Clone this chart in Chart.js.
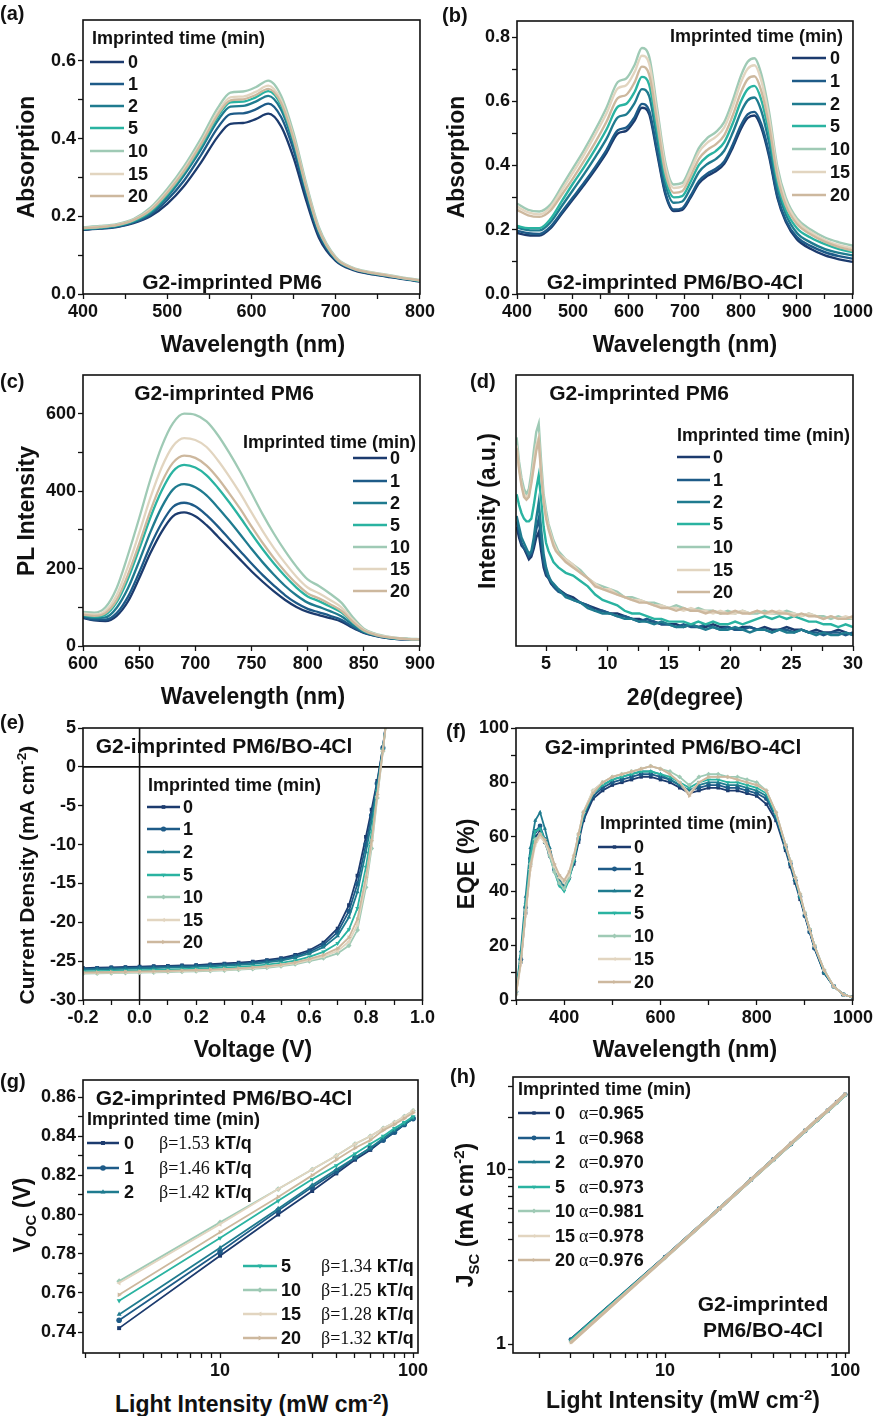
<!DOCTYPE html>
<html>
<head>
<meta charset="utf-8">
<script src="https://cdn.jsdelivr.net/npm/chart.js@4.4.0/dist/chart.umd.min.js"></script>
<style>
body{margin:0;background:#fff;width:875px;height:1416px;position:relative;overflow:hidden;font-family:"Liberation Sans",Arial,sans-serif;}
canvas{position:absolute;}
.t{position:absolute;white-space:nowrap;font-weight:bold;color:#111;line-height:1;}
.c{transform:translate(-50%,-50%);}
.l{transform:translateY(-50%);}
.r{transform:translate(-50%,-50%) rotate(-90deg);}
.serif{font-family:"Liberation Serif","Times New Roman",serif;font-weight:normal;}
sup,sub{font-size:65%;}
</style>
</head>
<body>
<script>
// imprinted times and colours (one per series)
const TIMES = ['0', '1', '2', '5', '10', '15', '20'];
const COLORS = ['#1c3b6e', '#1e5b88', '#1f7b8f', '#2ab3a1', '#9fcab5', '#e2d5c0', '#cdb89e'];
const SHAPES = ['rect', 'circle', 'triangle', 'triangle', 'rectRot', 'triangle', 'triangle'];
const ROTS = [0, 0, 0, 180, 0, -90, 90];
const BETA = ['1.53', '1.46', '1.42', '1.34', '1.25', '1.28', '1.32'];
const ALPHA = ['0.965', '0.968', '0.970', '0.973', '0.981', '0.978', '0.976'];

// (a) absorption PM6
const aX = [400,420,440,460,480,500,520,540,560,575,590,605,620,635,650,665,680,700,720,740,760,780,800];
const a0 = [.165,.168,.172,.182,.200,.232,.278,.338,.405,.438,.440,.450,.464,.432,.350,.240,.145,.085,.062,.052,.045,.038,.032];
const a1 = [.166,.169,.173,.184,.204,.242,.292,.357,.428,.463,.465,.475,.490,.456,.370,.253,.153,.088,.064,.053,.046,.039,.033];
const a2 = [.167,.170,.175,.186,.208,.250,.306,.372,.446,.482,.484,.495,.510,.475,.385,.264,.160,.090,.065,.054,.047,.040,.034];
const a3 = [.168,.171,.176,.188,.212,.256,.313,.380,.456,.493,.495,.506,.522,.486,.394,.270,.163,.091,.066,.055,.048,.040,.034];
const a4 = [.172,.175,.180,.193,.222,.270,.329,.400,.479,.518,.521,.532,.549,.511,.414,.284,.172,.095,.068,.057,.050,.042,.036];
const a5 = [.170,.173,.178,.191,.218,.264,.321,.390,.468,.506,.508,.520,.536,.499,.404,.277,.167,.093,.067,.056,.049,.041,.035];
const a6 = [.169,.172,.177,.190,.215,.260,.316,.385,.461,.498,.501,.512,.528,.492,.398,.273,.165,.092,.066,.055,.048,.041,.035];

// (b) absorption PM6/BO-4Cl
const bX = [400,420,440,460,480,500,520,540,560,580,595,610,623,636,650,665,680,695,710,725,740,755,770,785,800,812,824,836,850,865,880,900,925,950,975,1000];
const b0 = [.190,.183,.182,.205,.250,.295,.340,.388,.440,.500,.508,.540,.580,.560,.440,.310,.258,.262,.300,.345,.368,.382,.405,.455,.515,.548,.556,.520,.430,.300,.225,.170,.140,.120,.108,.100];
const b1 = [.197,.189,.187,.210,.255,.301,.347,.396,.449,.510,.518,.551,.592,.571,.449,.316,.263,.267,.306,.352,.375,.390,.413,.464,.525,.559,.567,.530,.439,.306,.230,.177,.149,.130,.118,.110];
const b2 = [.207,.199,.198,.224,.274,.324,.374,.427,.484,.550,.559,.594,.638,.616,.484,.341,.284,.288,.330,.380,.405,.420,.446,.501,.567,.603,.612,.572,.473,.330,.248,.190,.160,.140,.128,.120];
const b3 = [.212,.205,.205,.234,.289,.344,.396,.452,.513,.583,.592,.629,.676,.652,.513,.361,.301,.305,.350,.402,.429,.445,.472,.530,.600,.638,.648,.606,.501,.350,.262,.205,.175,.155,.140,.130];
const b4 = [.282,.262,.257,.279,.335,.392,.449,.512,.581,.660,.671,.713,.766,.739,.581,.409,.341,.346,.396,.455,.486,.504,.535,.601,.680,.723,.734,.686,.568,.396,.300,.235,.200,.176,.161,.150];
const b5 = [.272,.254,.248,.270,.323,.378,.435,.497,.563,.640,.650,.691,.742,.717,.563,.397,.330,.335,.384,.442,.471,.489,.518,.582,.659,.701,.712,.666,.550,.384,.290,.228,.192,.168,.152,.142];
const b6 = [.262,.245,.240,.260,.309,.360,.415,.473,.537,.610,.620,.659,.708,.683,.537,.378,.315,.320,.366,.421,.449,.466,.494,.555,.628,.669,.678,.634,.525,.366,.276,.218,.185,.162,.146,.135];

// (c) PL
const cX = [600,610,620,630,640,650,660,670,680,690,700,710,720,730,740,750,760,770,780,790,800,810,820,830,840,850,860,870,880,890,900];
const c0 = [72,66,64,78,115,175,240,295,335,345,335,312,283,253,223,193,166,141,119,101,88,80,72,63,47,34,26,21,18,17,16];
const c1 = [74,68,68,85,127,190,259,317,359,370,361,338,309,277,245,213,183,156,131,111,96,87,78,68,50,35,27,21,18,17,16];
const c2 = [77,72,74,99,149,219,294,358,404,418,410,389,358,324,288,251,216,184,155,131,112,101,90,77,55,37,28,22,19,18,17];
const c3 = [80,76,81,113,173,250,332,401,451,468,461,441,409,372,332,290,250,213,180,151,128,116,102,87,61,39,29,23,19,18,17];
const c4 = [88,86,100,150,235,330,430,515,575,600,597,580,545,500,450,395,340,290,245,205,172,155,135,112,75,45,32,25,21,19,18];
const c5 = [84,81,91,132,205,292,383,461,516,537,532,514,480,439,394,345,297,253,214,179,151,136,119,100,68,42,31,24,20,18,17];
const c6 = [81,78,85,119,184,264,349,422,473,492,486,466,434,395,354,309,266,227,192,161,136,123,108,91,63,40,29,23,20,18,17];

// (d) XRD, arbitrary units
const dX = [2.6,2.8,3.0,3.2,3.4,3.6,3.8,4.0,4.2,4.4,4.6,4.8,5.0,5.2,5.4,5.6,5.8,6.0,6.6,7.2,7.8,8.4,9.0,9.6,10.2,10.8,11.4,12.0,12.6,13.2,13.8,14.4,15.0,15.6,16.2,16.8,17.4,18.0,18.6,19.2,19.8,20.4,21.0,21.6,22.2,22.8,23.4,24.0,24.6,25.2,25.8,26.4,27.0,27.6,28.2,28.8,29.4,30.0];
const d0 = [44,40,37,36,34,32,33,36,40,42,35,29,26,25,23,22,21,21,19,18,16,15,14,13,12,12,11,10,10,9,9,8,8,8,7,8,7,7,8,7,7,6,7,7,6,7,6,6,7,6,6,5,6,5,5,6,5,4];
const d1 = [46,42,38,36,35,33,34,38,43,47,39,31,27,25,24,22,21,20,19,17,16,15,13,13,12,11,11,10,9,10,9,8,8,7,8,7,7,8,7,6,7,6,6,7,6,6,5,6,6,5,6,5,5,4,5,5,4,5];
const d2 = [48,44,40,38,36,34,35,40,47,53,43,34,29,26,24,23,22,21,18,17,16,14,13,12,12,11,10,10,9,9,8,9,8,7,7,8,7,6,7,6,6,7,6,5,6,6,5,6,5,5,6,5,4,5,4,4,5,4];
const d3 = [56,52,49,47,46,46,47,52,58,63,54,44,38,35,33,31,30,29,27,26,24,22,19,17,16,15,13,12,12,11,10,10,9,9,9,8,9,8,9,8,8,9,8,9,10,11,10,11,10,11,10,9,9,8,8,7,8,7];
const d4 = [77,68,62,58,56,58,64,72,79,82,68,56,50,45,42,39,37,35,32,30,28,25,23,22,21,20,18,18,17,16,16,15,14,15,14,13,14,13,13,12,13,12,13,12,12,13,12,12,13,12,11,12,11,11,10,11,10,10];
const d5 = [74,66,60,56,55,56,61,68,74,77,64,54,48,44,41,38,36,34,32,30,27,25,23,21,21,19,18,17,17,16,15,15,14,14,13,14,13,13,12,13,12,12,13,12,13,12,12,13,12,12,11,12,11,10,11,10,11,10];
const d6 = [73,65,59,55,54,55,60,66,72,76,63,53,47,43,40,37,35,34,31,29,27,25,22,21,20,19,18,17,16,16,15,14,14,13,14,13,13,12,13,12,12,13,12,12,13,12,13,12,12,11,12,11,11,10,11,10,10,11];

// (e) J-V
const eX = [-0.2,-0.15,-0.1,-0.05,0,0.05,0.1,0.15,0.2,0.25,0.3,0.35,0.4,0.45,0.5,0.55,0.6,0.65,0.7,0.74,0.77,0.8,0.82,0.84,0.86,0.87];
const e0 = [-25.9,-25.85,-25.8,-25.75,-25.7,-25.65,-25.6,-25.55,-25.5,-25.4,-25.3,-25.2,-25.05,-24.85,-24.6,-24.2,-23.6,-22.6,-20.8,-17.8,-14.0,-9.0,-5.5,-1.8,2.5,5.5];
const e1 = [-26.0,-25.96,-25.91,-25.86,-25.82,-25.77,-25.72,-25.67,-25.62,-25.53,-25.44,-25.34,-25.19,-25.0,-24.76,-24.38,-23.81,-22.9,-21.28,-18.58,-15.05,-9.98,-6.25,-2.13,2.43,5.46];
const e2 = [-26.11,-26.07,-26.03,-25.98,-25.93,-25.89,-25.84,-25.79,-25.74,-25.66,-25.57,-25.47,-25.34,-25.15,-24.92,-24.56,-24.02,-23.2,-21.76,-19.36,-16.1,-10.95,-7.0,-2.46,2.35,5.41];
const e3 = [-26.32,-26.29,-26.25,-26.2,-26.17,-26.13,-26.08,-26.03,-25.98,-25.91,-25.84,-25.74,-25.62,-25.45,-25.23,-24.92,-24.44,-23.8,-22.72,-20.92,-18.2,-12.9,-8.5,-3.12,2.2,5.32];
const e4 = [-26.6,-26.58,-26.55,-26.5,-26.48,-26.45,-26.4,-26.35,-26.3,-26.25,-26.2,-26.1,-26.0,-25.85,-25.65,-25.4,-25.0,-24.6,-24.0,-23.0,-21.0,-15.5,-10.5,-4.0,2.0,5.2];
const e5 = [-26.53,-26.51,-26.48,-26.43,-26.4,-26.37,-26.32,-26.27,-26.22,-26.17,-26.11,-26.01,-25.91,-25.75,-25.55,-25.28,-24.86,-24.4,-23.68,-22.48,-20.3,-14.85,-10.0,-3.78,2.05,5.23];
const e6 = [-26.46,-26.43,-26.4,-26.35,-26.32,-26.29,-26.24,-26.19,-26.14,-26.08,-26.02,-25.92,-25.81,-25.65,-25.44,-25.16,-24.72,-24.2,-23.36,-21.96,-19.6,-14.2,-9.5,-3.56,2.1,5.26];

// (f) EQE
const fX = [300,310,320,330,340,350,360,370,380,390,400,410,420,430,440,460,480,500,520,540,560,580,600,620,640,660,680,700,720,740,760,780,800,820,840,860,870,880,890,900,910,920,940,960,980,1000];
const f0 = [4,14,32,50,60,62,58,53,48,43,42,45,50,58,66,74,77,79,80,81,82,82,81,80,78,76,77,78,78,77,77,76,75,72,66,55,49,43,37,31,25,19,10,5,2,1];
const f1 = [3,15,34,52,62,64,59,54,48,44,42,45,51,59,67,75,78,80,81,82,83,83,82,81,79,77,78,79,79,78,78,77,76,74,67,56,50,44,38,31,25,19,10,5,2,1];
const f2 = [3,18,38,56,66,69,63,56,49,44,42,46,52,60,68,76,79,81,82,83,84,84,83,81,79,77,79,80,80,79,79,78,77,75,68,56,50,44,38,32,26,20,10,5,2,1];
const f3 = [3,16,35,53,62,63,59,53,47,42,40,44,51,60,68,76,79,81,82,83,84,84,83,82,80,78,80,81,81,80,80,79,78,76,68,57,51,45,38,32,26,20,11,5,2,1];
const f4 = [2,14,33,50,59,61,58,53,47,43,41,45,52,61,69,77,80,82,83,84,85,86,85,84,82,79,82,83,83,82,82,81,80,77,69,57,51,45,39,32,26,20,11,5,2,1];
const f5 = [2,13,31,48,57,60,58,54,49,45,43,46,53,61,69,77,80,82,83,84,85,86,85,83,80,76,80,82,82,82,81,80,79,77,69,57,51,45,39,32,26,20,11,5,2,1];
const f6 = [2,14,32,49,58,61,59,55,50,46,44,47,53,61,69,76,80,82,83,84,85,86,85,83,80,75,80,82,82,82,81,80,79,77,69,57,51,45,39,32,26,20,11,5,2,1];

// (g) Voc vs light intensity, (h) Jsc vs light intensity
const lightX = [3,10,20,30,40,50,60,70,80,90,100];
const g0 = [0.742,0.779,0.800,0.812,0.821,0.828,0.833,0.838,0.842,0.846,0.849];
const g1 = [0.746,0.781,0.802,0.814,0.822,0.829,0.834,0.838,0.842,0.846,0.849];
const g2 = [0.749,0.783,0.803,0.815,0.823,0.829,0.834,0.839,0.843,0.846,0.849];
const g3 = [0.756,0.788,0.807,0.818,0.825,0.831,0.836,0.840,0.844,0.847,0.850];
const g4 = [0.766,0.796,0.813,0.823,0.830,0.836,0.840,0.844,0.847,0.850,0.853];
const g5 = [0.765,0.795,0.813,0.823,0.830,0.836,0.840,0.844,0.847,0.850,0.853];
const g6 = [0.759,0.791,0.809,0.820,0.828,0.834,0.838,0.843,0.846,0.849,0.852];
const h0 = [1.06,3.16,6.00,8.80,11.5,14.1,16.8,19.4,21.9,24.5,27.1];
const h1 = [1.06,3.16,6.00,8.79,11.5,14.1,16.8,19.4,21.9,24.5,27.1];
const h2 = [1.05,3.15,5.99,8.79,11.5,14.1,16.8,19.4,21.9,24.5,27.0];
const h3 = [1.05,3.15,5.99,8.78,11.5,14.1,16.8,19.3,21.9,24.4,27.0];
const h4 = [1.03,3.13,5.97,8.76,11.4,14.1,16.7,19.3,21.8,24.3,26.9];
const h5 = [1.02,3.14,5.99,8.80,11.5,14.2,16.9,19.5,22.0,24.6,27.3];
const h6 = [1.02,3.14,5.99,8.80,11.5,14.2,16.9,19.5,22.0,24.6,27.3];

// tick values
const aXMaj = [400,500,600,700,800], aXMin = [450,550,650,750];
const aYMaj = [0,0.2,0.4,0.6], aYMin = [0.1,0.3,0.5];
const bXMaj = [400,500,600,700,800,900,1000], bXMin = [450,550,650,750,850,950];
const bYMaj = [0,0.2,0.4,0.6,0.8], bYMin = [0.1,0.3,0.5,0.7];
const cXMaj = [600,650,700,750,800,850,900], cYMaj = [0,200,400,600], cYMin = [100,300,500];
const dXMaj = [5,10,15,20,25,30], dXMin = [7.5,12.5,17.5,22.5,27.5];
const eXMaj = [-0.2,0,0.2,0.4,0.6,0.8,1.0], eXMin = [-0.1,0.1,0.3,0.5,0.7,0.9];
const eYMaj = [5,0,-5,-10,-15,-20,-25,-30];
const fXMaj = [400,600,800,1000], fXMin = [300,500,700,900];
const fYMaj = [0,20,40,60,80,100], fYMin = [10,30,50,70,90];
const logMaj = [10,100], logMin = [2,3,4,5,6,7,8,9,20,30,40,50,60,70,80,90];
const gYMaj = [0.74,0.76,0.78,0.80,0.82,0.84,0.86], gYMin = [0.75,0.77,0.79,0.81,0.83,0.85];
const hYMaj = [1,10], hYMin = [2,3,4,5,6,7,8,9,20,30];

const FONT = '"Liberation Sans", Arial, sans-serif';

// frame, zero lines and legend samples
Chart.register({
  id: 'frame',
  beforeDatasetsDraw(chart, args, o) {
    if (!o.zero) return;
    const a = chart.chartArea, ctx = chart.ctx;
    const x0 = chart.scales.x.getPixelForValue(0), y0 = chart.scales.y.getPixelForValue(0);
    ctx.save();
    ctx.strokeStyle = '#111'; ctx.lineWidth = 1.6;
    ctx.beginPath();
    ctx.moveTo(x0, a.top); ctx.lineTo(x0, a.bottom);
    ctx.moveTo(a.left, y0); ctx.lineTo(a.right, y0);
    ctx.stroke();
    ctx.restore();
  },
  afterDatasetsDraw(chart, args, o) {
    const a = chart.chartArea, ctx = chart.ctx;
    ctx.save();
    ctx.strokeStyle = '#111'; ctx.lineWidth = 1.6;
    ctx.strokeRect(a.left, a.top, a.right - a.left, a.bottom - a.top);
    (o.keys || []).forEach(k => {
      const ds = chart.data.datasets[k.i];
      const y = k.y - o.oy;
      ctx.strokeStyle = ds.borderColor; ctx.fillStyle = ds.borderColor;
      ctx.lineWidth = o.lw || 2.5;
      ctx.beginPath(); ctx.moveTo(k.x1 - o.ox, y); ctx.lineTo(k.x2 - o.ox, y); ctx.stroke();
      if (ds.pointRadius > 0 && Chart.helpers && Chart.helpers.drawPoint) {
        Chart.helpers.drawPoint(ctx, {pointStyle: ds.pointStyle, rotation: ds.pointRotation || 0, radius: ds.pointRadius, borderWidth: 0},
          (k.x1 + k.x2) / 2 - o.ox, y);
      }
    });
    ctx.restore();
  }
});

function lines(xs, ys, w) {
  return ys.map((y, i) => ({
    label: TIMES[i], data: xs.map((x, k) => ({x: x, y: y[k]})),
    borderColor: COLORS[i], backgroundColor: COLORS[i], borderWidth: w,
    pointRadius: 0, cubicInterpolationMode: 'monotone', order: 6 - i
  }));
}
function marked(xs, ys, w, r) {
  return lines(xs, ys, w).map((d, i) => Object.assign(d, {
    pointStyle: SHAPES[i], pointRotation: ROTS[i], pointRadius: r, pointBorderWidth: 0,
    cubicInterpolationMode: 'default', tension: 0
  }));
}
function noisy(xs, ys, w) {
  return lines(xs, ys, w).map(d => Object.assign(d, {cubicInterpolationMode: 'default', tension: 0}));
}

function axis(pos, type, min, max, major, minor, fmt) {
  const all = major.concat(minor).sort((p, q) => p - q);
  return {
    type: type, position: pos, min: min, max: max, bounds: 'data',
    afterBuildTicks: s => { s.ticks = all.map(v => ({value: v})); },
    grid: {display: all.length > 0, drawOnChartArea: false, drawTicks: true, tickLength: 5, tickColor: '#111', tickWidth: 1.3, color: '#111'},
    border: {display: false},
    ticks: {
      display: all.length > 0, autoSkip: false, maxRotation: 0, minRotation: 0, padding: 2, color: '#111',
      font: {family: FONT, size: 18, weight: 'bold'},
      callback: v => { const m = major.find(t => Math.abs(t - v) < 1e-9); return m === undefined ? '' : fmt(m); }
    }
  };
}
const f1d = v => v.toFixed(1), f2d = v => v.toFixed(2), fs = v => String(v);

function make(box, area, xAx, yAx, datasets, keys, extra) {
  const cv = document.createElement('canvas');
  cv.width = box[2]; cv.height = box[3];
  cv.style.left = box[0] + 'px'; cv.style.top = box[1] + 'px';
  document.body.appendChild(cv);
  xAx.afterFit = s => { s.height = box[1] + box[3] - area[3]; };
  yAx.afterFit = s => { s.width = area[0] - box[0]; };
  new Chart(cv, {
    type: 'line',
    data: {datasets: datasets},
    options: {
      responsive: false, animation: false, events: [],
      layout: {padding: {left: 0, top: area[1] - box[1], right: box[0] + box[2] - area[2], bottom: 0}},
      plugins: {legend: {display: false}, tooltip: {enabled: false},
        frame: Object.assign({keys: keys, ox: box[0], oy: box[1]}, extra || {})},
      scales: {x: xAx, y: yAx}
    }
  });
}
function keysAt(x1, x2, ys, idx) {
  return ys.map((y, j) => ({i: idx ? idx[j] : j, x1: x1, x2: x2, y: y}));
}

// legend rows (page y)
const aK = [62,84,106,128,151,174,196], bK = [58,81,104,126,149,172,195];
const cK = [458,481,503,525,547,569,591], dK = [457,480,502,524,547,570,592];
const eK = [807,829,852,875,897,920,942], fK = [847,869,891,913,936,959,982];
const gK1 = [1143,1168,1192], gK2 = [1266,1290,1314,1338];
const hK = [1113,1138,1162,1187,1211,1236,1260];

make([0,0,437,335], [83,20,423,294],
  axis('bottom', 'linear', 400, 800, aXMaj, aXMin, fs), axis('left', 'linear', 0, 0.705, aYMaj, aYMin, f1d),
  lines(aX, [a0,a1,a2,a3,a4,a5,a6], 2.3), keysAt(90, 124, aK));
make([437,0,438,335], [517,21,854,294],
  axis('bottom', 'linear', 400, 1000, bXMaj, bXMin, fs), axis('left', 'linear', 0, 0.85, bYMaj, bYMin, f1d),
  lines(bX, [b0,b1,b2,b3,b4,b5,b6], 2.4), keysAt(792, 826, bK));
make([0,358,437,330], [83,375,423,646],
  axis('bottom', 'linear', 600, 900, cXMaj, [], fs), axis('left', 'linear', 0, 700, cYMaj, cYMin, fs),
  lines(cX, [c0,c1,c2,c3,c4,c5,c6], 2.3), keysAt(353, 387, cK));
make([437,358,438,330], [516,375,853,646],
  axis('bottom', 'linear', 2.55, 30, dXMaj, dXMin, fs), axis('left', 'linear', 0, 100, [], [], fs),
  noisy(dX, [d0,d1,d2,d3,d4,d5,d6], 2.4), keysAt(677, 710, dK));
make([0,708,437,330], [83,728,423,1000],
  axis('bottom', 'linear', -0.2, 1.0, eXMaj, eXMin, f1d), axis('left', 'linear', -30, 5, eYMaj, [], fs),
  marked(eX, [e0,e1,e2,e3,e4,e5,e6], 1.8, 2.6), keysAt(147, 180, eK), {zero: true});
make([437,708,438,330], [516,728,853,1000],
  axis('bottom', 'linear', 300, 1000, fXMaj, fXMin, fs), axis('left', 'linear', 0, 100, fYMaj, fYMin, fs),
  marked(fX, [f0,f1,f2,f3,f4,f5,f6], 1.8, 2.4), keysAt(598, 631, fK));
make([0,1062,437,325], [83,1080,418,1353],
  axis('bottom', 'logarithmic', 1.95, 106, logMaj, logMin, fs), axis('left', 'linear', 0.7293, 0.8687, gYMaj, gYMin, f2d),
  marked(lightX, [g0,g1,g2,g3,g4,g5,g6], 1.8, 2.8), keysAt(87, 119, gK1, [0,1,2]).concat(keysAt(243, 277, gK2, [3,4,5,6])));
make([437,1062,438,325], [513,1077,849,1353],
  axis('bottom', 'logarithmic', 1.43, 105, logMaj, logMin, fs), axis('left', 'logarithmic', 0.888, 34.2, hYMaj, hYMin, fs),
  marked(lightX, [h0,h1,h2,h3,h4,h5,h6], 3, 2.4), keysAt(518, 550, hK));

// text
function put(html, x, y, size, cls) {
  const d = document.createElement('div');
  d.className = 't ' + cls;
  d.style.left = x + 'px'; d.style.top = y + 'px'; d.style.fontSize = size + 'px';
  d.innerHTML = html;
  document.body.appendChild(d);
}
[['(a)',0,13],['(b)',442,15],['(c)',0,381],['(d)',470,381],['(e)',0,722],['(f)',446,731],['(g)',0,1081],['(h)',450,1076]]
  .forEach(p => put(p[0], p[1], p[2], 20, 'l'));
[['Absorption',26,157,23],['Absorption',456,157,23],['PL Intensity',26,511,23],['Intensity (a.u.)',487,511,23],
 ['Current Density (mA cm<sup>-2</sup>)',26,875,21],['EQE (%)',466,864,23],['V<sub>OC</sub> (V)',25,1215,23],
 ['J<sub>SC</sub> (mA cm<sup>-2</sup>)',467,1215,23]].forEach(p => put(p[0], p[1], p[2], p[3], 'r'));
[['Wavelength (nm)',253,344],['Wavelength (nm)',685,344],['Wavelength (nm)',253,696],['2<i>θ</i>(degree)',685,697],
 ['Voltage (V)',253,1049],['Wavelength (nm)',685,1049],['Light Intensity (mW cm<sup>-2</sup>)',252,1404],
 ['Light Intensity (mW cm<sup>-2</sup>)',683,1400]].forEach(p => put(p[0], p[1], p[2], 23, 'c'));
[['G2-imprinted PM6',232,281],['G2-imprinted PM6/BO-4Cl',675,281],['G2-imprinted PM6',224,392],['G2-imprinted PM6',639,392],
 ['G2-imprinted PM6/BO-4Cl',224,745],['G2-imprinted PM6/BO-4Cl',673,746],['G2-imprinted PM6/BO-4Cl',224,1097],
 ['G2-imprinted',763,1303],['PM6/BO-4Cl',763,1329]].forEach(p => put(p[0], p[1], p[2], 21, 'c'));
[[92,38],[670,36],[243,442],[677,435],[148,785],[600,823],[87,1119],[518,1089]]
  .forEach(p => put('Imprinted time (min)', p[0], p[1], 18, 'l'));
[[128,aK],[830,bK],[390,cK],[713,dK],[183,eK],[634,fK],[555,hK]].forEach(p =>
  p[1].forEach((y, i) => put(TIMES[i], p[0], y, 18, 'l')));
gK1.forEach((y, i) => {
  put(TIMES[i], 124, y, 18, 'l');
  put('<span class="serif">β=' + BETA[i] + '</span> kT/q', 159, y, 18, 'l');
});
gK2.forEach((y, j) => {
  put(TIMES[j + 3], 281, y, 18, 'l');
  put('<span class="serif">β=' + BETA[j + 3] + '</span> kT/q', 321, y, 18, 'l');
});
hK.forEach((y, i) => put('<span class="serif">α=</span>' + ALPHA[i], 579, y, 18, 'l'));
</script>
</body>
</html>
